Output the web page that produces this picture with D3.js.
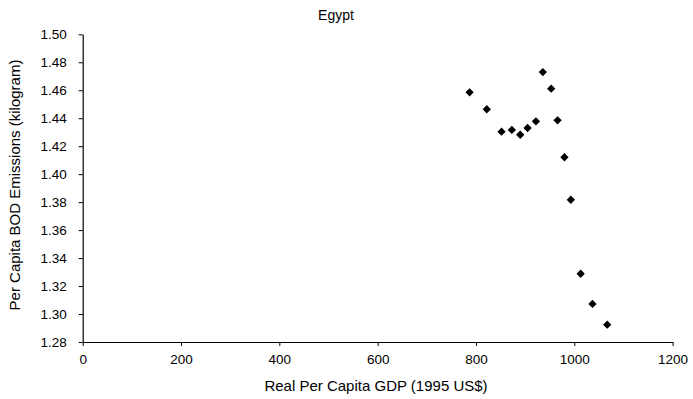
<!DOCTYPE html>
<html lang="en">
<head>
<meta charset="UTF-8">
<title>Egypt</title>
<script src="https://d3js.org/d3.v7.min.js"></script>
<style>
  body { margin: 0; padding: 0; background: #fff; }
  text { font-family: 'Liberation Sans', Arial, Helvetica, sans-serif; fill: #000; }
</style>
</head>
<body>
<svg id="chart" width="693" height="399"></svg>
<script>
// GDP per capita (1995 US$) and per capita BOD emissions (kg)
const gdp = [787, 822, 852, 873, 890, 905, 922, 936, 953, 966, 980, 993, 1013, 1037, 1067];
const bod = [1.4585, 1.4464, 1.4304, 1.4316, 1.4282, 1.4330, 1.4378, 1.4730, 1.4611, 1.4385, 1.4121, 1.3817, 1.3288, 1.3072, 1.2924];
const xTicks = [0, 200, 400, 600, 800, 1000, 1200];
const yTicks = [1.28, 1.30, 1.32, 1.34, 1.36, 1.38, 1.40, 1.42, 1.44, 1.46, 1.48, 1.50];

const svg = d3.select("#chart");
const plotL = 82.7, plotR = 672.6, plotT = 34.3, plotB = 342;

const x = d3.scaleLinear().domain([0, 1200]).range([plotL, plotR]);
const y = d3.scaleLinear().domain([1.28, 1.50]).range([plotB, plotT]);

// title
svg.append("text")
  .attr("x", 336).attr("y", 20)
  .attr("text-anchor", "middle")
  .style("font-size", "14px")
  .text("Egypt");

// x axis
const gx = svg.append("g")
  .attr("transform", "translate(0," + plotB + ")")
  .call(d3.axisBottom(x).tickValues(xTicks).tickFormat(d3.format("d"))
    .tickSizeInner(4).tickSizeOuter(0).tickPadding(8));

// y axis
const gy = svg.append("g")
  .attr("transform", "translate(" + plotL + ",0)")
  .call(d3.axisLeft(y).tickValues(yTicks).tickFormat(d3.format(".2f"))
    .tickSizeInner(4).tickSizeOuter(0).tickPadding(12));

[gx, gy].forEach(function(g) {
  g.select(".domain").attr("stroke", "#000").attr("stroke-width", 1.2);
  g.selectAll(".tick line").attr("stroke", "#000");
  g.selectAll(".tick text").style("font-size", "13.5px").attr("fill", "#000")
    .style("font-family", "'Liberation Sans', Arial, sans-serif");
});

// axis labels
svg.append("text")
  .attr("x", 376).attr("y", 391)
  .attr("text-anchor", "middle")
  .style("font-size", "15px")
  .text("Real Per Capita GDP (1995 US$)");

svg.append("text")
  .attr("text-anchor", "middle")
  .attr("transform", "translate(20," + 185 + ")rotate(-90)")
  .style("font-size", "15px")
  .text("Per Capita BOD Emissions (kilogram)");

// points
const pts = gdp.map(function(d, i) { return [d, bod[i]]; });
svg.append("g")
  .selectAll("path")
  .data(pts)
  .enter()
  .append("path")
  .attr("d", d3.symbol().type(d3.symbolDiamond2).size(44))
  .attr("transform", function(d) { return "translate(" + x(d[0]) + "," + y(d[1]) + ")"; })
  .attr("fill", "#000");
</script>
</body>
</html>
